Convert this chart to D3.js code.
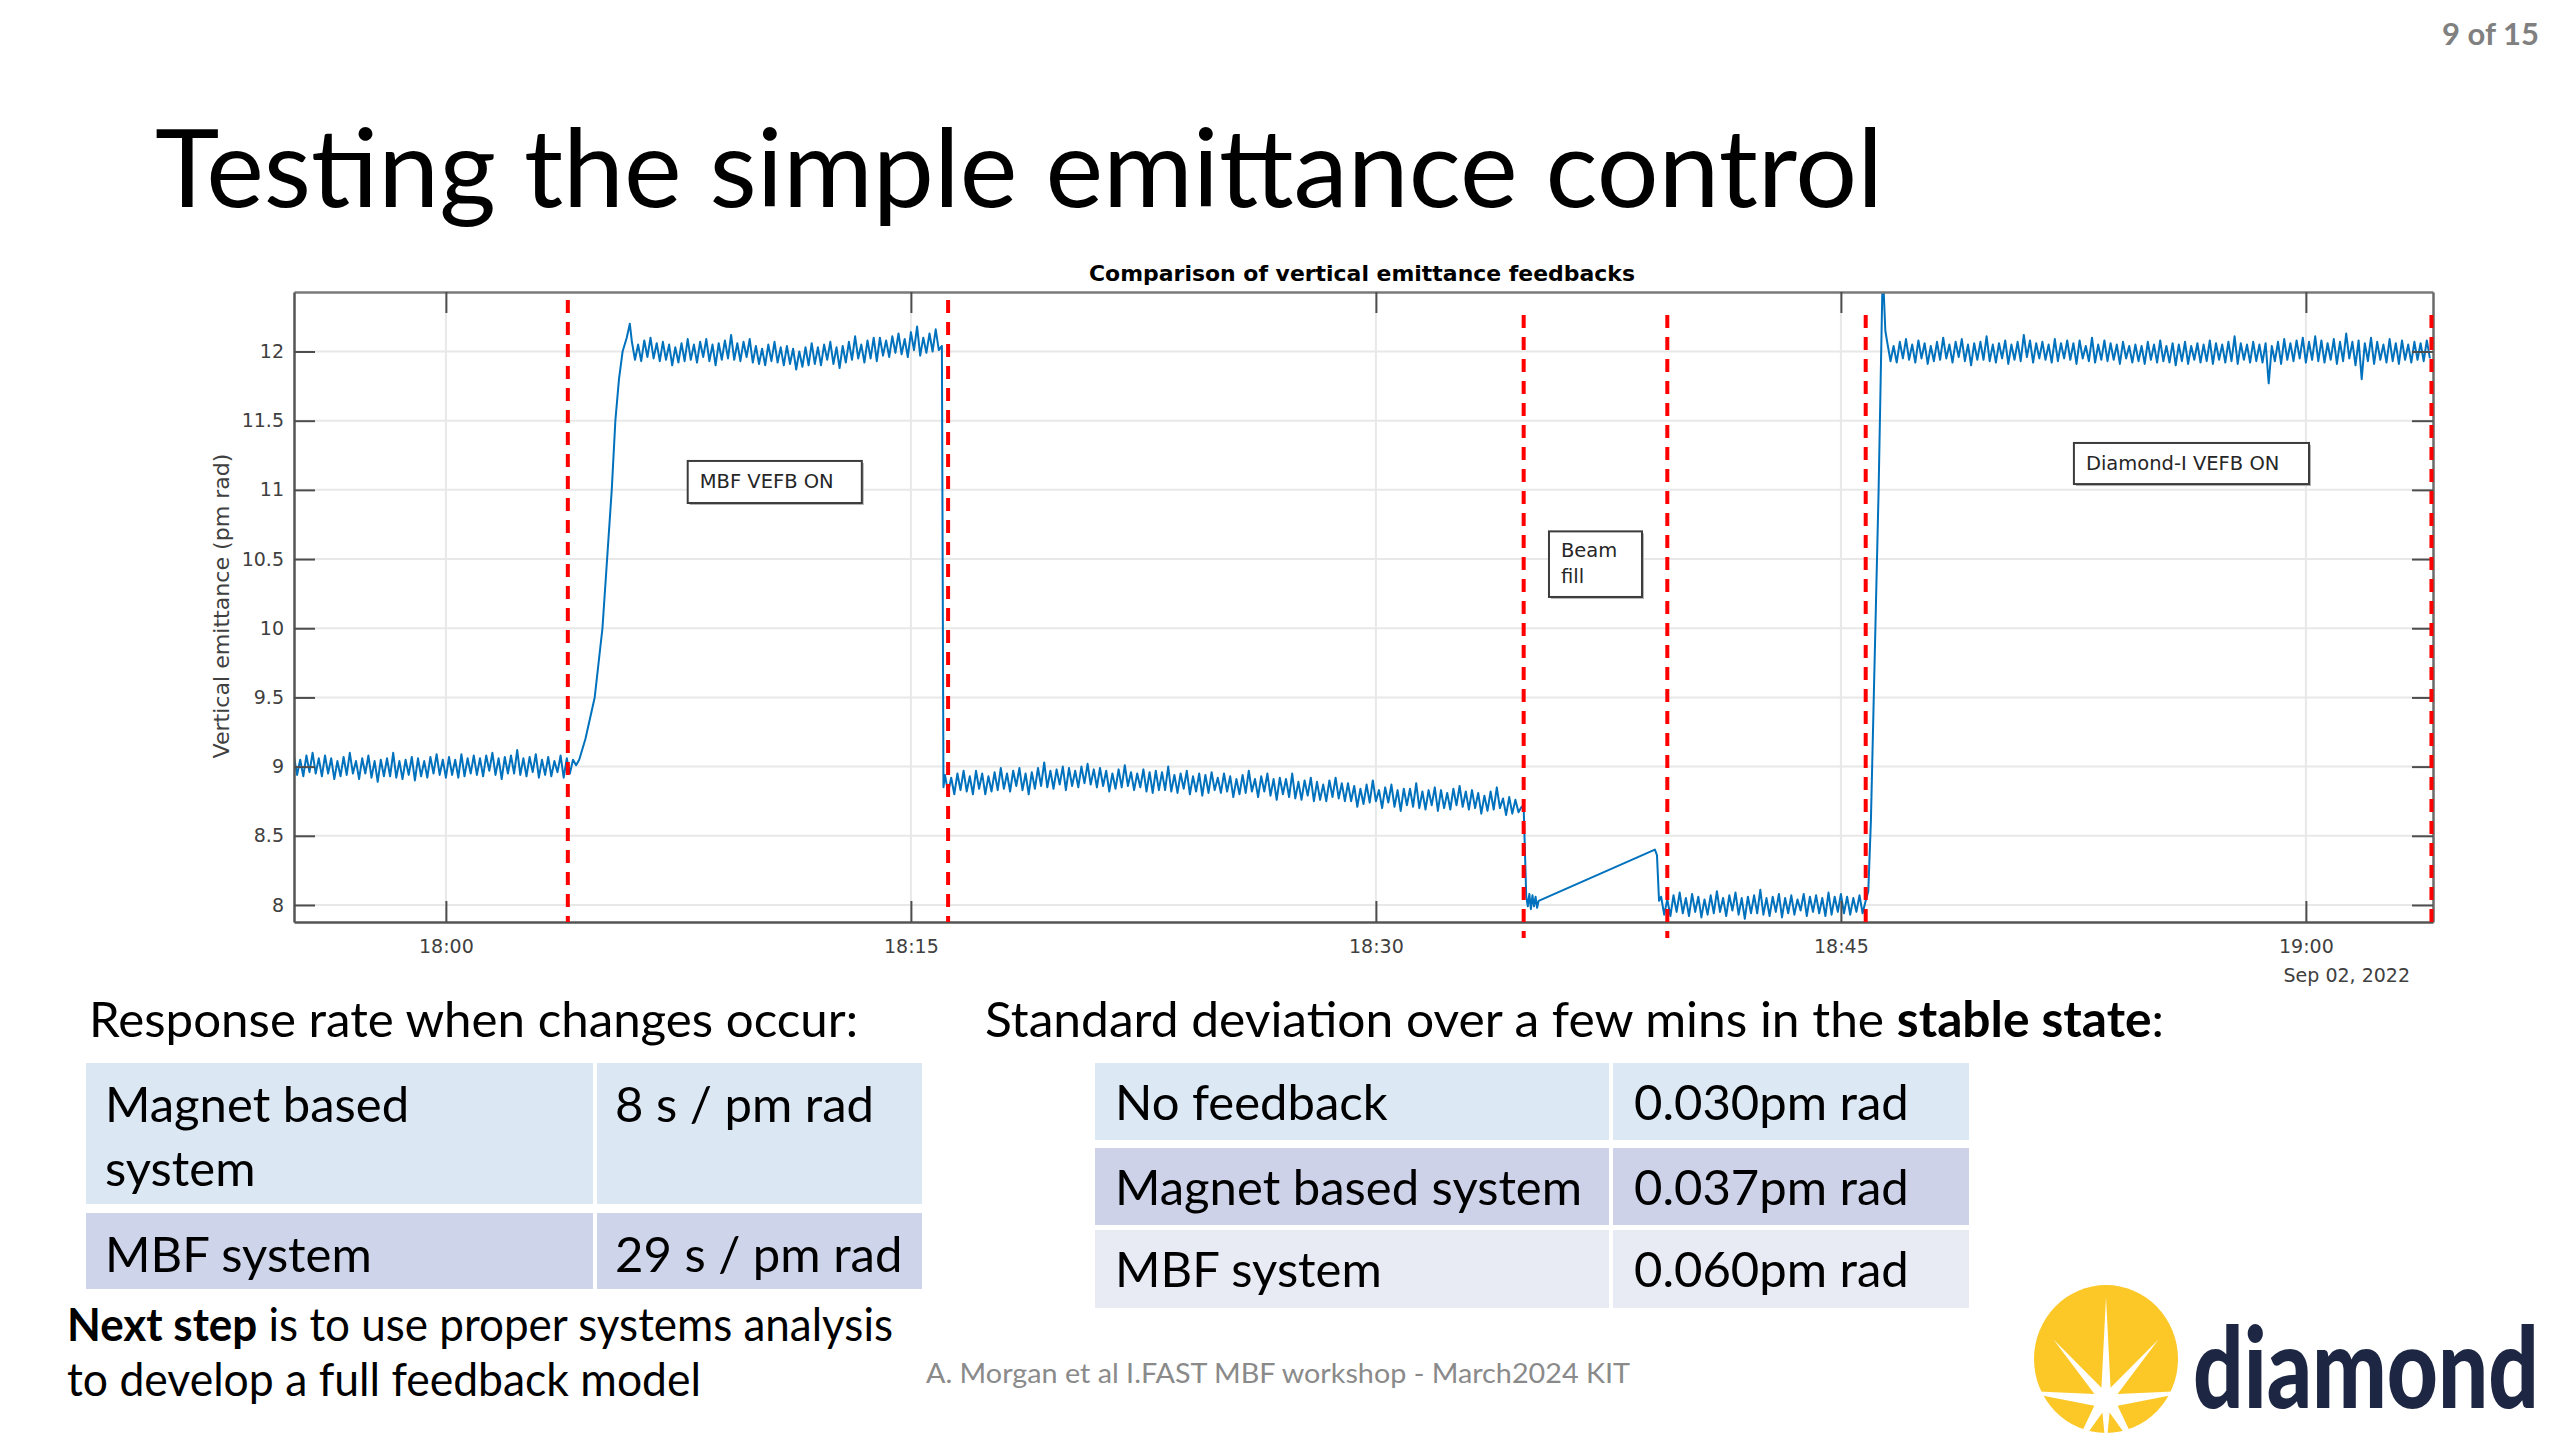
<!DOCTYPE html>
<html>
<head>
<meta charset="utf-8">
<script src="https://cdn.jsdelivr.net/npm/d3@7"></script>
<style>
  html, body { margin: 0; padding: 0; background: #fff; }
  svg { display: block; }
  text { white-space: pre; }
</style>
</head>
<body>
<svg id="slide" width="2560" height="1440"></svg>
<script>
// ---- data ----
const day = "2022-09-02 ";
const xLimits = ["17:55:06", "19:04:06"];
const yLimits = [7.877, 12.43];
const yTicks = [8, 8.5, 9, 9.5, 10, 10.5, 11, 11.5, 12];
const xTicks = ["18:00:00", "18:15:00", "18:30:00", "18:45:00", "19:00:00"];
const dateLabel = "Sep 02, 2022";
const sampleStep = 6; // seconds between samples in the noisy stretches

// no feedback
const segAStart = "17:55:06";
const segA = [
  9.07, 8.94, 9.05, 8.93, 9.08, 8.96, 9.10, 8.95, 9.06, 8.93,
  9.08, 8.95, 9.06, 8.91, 9.04, 8.93, 9.07, 8.94, 9.10, 8.95,
  9.04, 8.91, 9.06, 8.95, 9.08, 8.92, 9.04, 8.89, 9.05, 8.93,
  9.06, 8.93, 9.10, 8.92, 9.04, 8.91, 9.05, 8.94, 9.07, 8.90,
  9.06, 8.93, 9.04, 8.92, 9.07, 8.95, 9.09, 8.94, 9.05, 8.92,
  9.07, 8.94, 9.05, 8.92, 9.09, 8.93, 9.06, 8.95, 9.08, 8.94,
  9.06, 8.93, 9.08, 8.97, 9.10, 8.94, 9.06, 8.91, 9.07, 8.95,
  9.08, 8.95, 9.12, 8.94, 9.06, 8.93, 9.07, 8.96, 9.09, 8.92,
  9.05, 8.94, 9.07, 8.93, 9.04, 8.96, 9.08, 8.92, 9.06, 8.95,
  9.05, 9.01
];
const rise1 = [
  ["18:04:18", 9.05], ["18:04:30", 9.2], ["18:04:48", 9.5], ["18:05:03", 10.0],
  ["18:05:12", 10.5], ["18:05:21", 11.0], ["18:05:28", 11.5], ["18:05:35", 11.8],
  ["18:05:42", 12.0], ["18:05:50", 12.1], ["18:05:56", 12.2]
];
// MBF VEFB on
const segBStart = "18:06:00";
const segB = [
  12.07, 11.94, 12.05, 11.93, 12.08, 11.96, 12.10, 11.95, 12.06, 11.93,
  12.07, 11.94, 12.05, 11.90, 12.03, 11.92, 12.06, 11.93, 12.09, 11.94,
  12.05, 11.92, 12.07, 11.96, 12.09, 11.93, 12.05, 11.90, 12.06, 11.94,
  12.08, 11.95, 12.12, 11.94, 12.06, 11.93, 12.07, 11.96, 12.09, 11.92,
  12.04, 11.91, 12.02, 11.90, 12.05, 11.93, 12.07, 11.92, 12.03, 11.90,
  12.04, 11.91, 12.02, 11.87, 12.00, 11.89, 12.03, 11.90, 12.06, 11.91,
  12.03, 11.90, 12.05, 11.94, 12.07, 11.91, 12.03, 11.88, 12.04, 11.92,
  12.07, 11.94, 12.11, 11.95, 12.05, 11.92, 12.08, 11.95, 12.10, 11.93,
  12.10, 11.97, 12.08, 11.96, 12.11, 11.99, 12.13, 11.98, 12.09, 11.96,
  12.14, 12.01, 12.18, 11.97, 12.10, 11.99, 12.13, 12.00, 12.16, 12.01,
  12.04
];
const drop1 = [["18:16:03", 8.85]];
// magnet based feedback
const segCStart = "18:16:06";
const segC = [
  8.94, 8.81, 8.92, 8.80, 8.95, 8.83, 8.97, 8.82, 8.93, 8.80,
  8.97, 8.84, 8.95, 8.80, 8.93, 8.82, 8.96, 8.83, 8.99, 8.84,
  8.95, 8.82, 8.97, 8.86, 8.99, 8.83, 8.95, 8.80, 8.96, 8.84,
  8.99, 8.86, 9.03, 8.85, 8.97, 8.84, 8.98, 8.87, 9.00, 8.83,
  8.99, 8.86, 8.97, 8.85, 9.00, 8.88, 9.02, 8.87, 8.98, 8.85,
  8.99, 8.86, 8.97, 8.82, 8.95, 8.84, 8.98, 8.85, 9.01, 8.86,
  8.96, 8.83, 8.95, 8.85, 8.98, 8.82, 8.96, 8.81, 8.97, 8.83,
  8.96, 8.83, 9.00, 8.82, 8.94, 8.81, 8.95, 8.84, 8.97, 8.80,
  8.93, 8.82, 8.95, 8.79, 8.94, 8.81, 8.96, 8.83, 8.92, 8.81,
  8.95, 8.82, 8.93, 8.78, 8.91, 8.80, 8.94, 8.81, 8.97, 8.82,
  8.91, 8.78, 8.93, 8.82, 8.95, 8.79, 8.91, 8.76, 8.92, 8.80,
  8.91, 8.78, 8.95, 8.77, 8.89, 8.76, 8.90, 8.79, 8.92, 8.75,
  8.89, 8.76, 8.87, 8.75, 8.90, 8.78, 8.92, 8.77, 8.88, 8.75,
  8.88, 8.75, 8.86, 8.71, 8.84, 8.73, 8.87, 8.74, 8.90, 8.75,
  8.83, 8.70, 8.85, 8.74, 8.87, 8.71, 8.83, 8.68, 8.84, 8.72,
  8.84, 8.71, 8.88, 8.70, 8.82, 8.69, 8.83, 8.72, 8.85, 8.68,
  8.83, 8.70, 8.81, 8.69, 8.84, 8.72, 8.86, 8.71, 8.82, 8.69,
  8.83, 8.70, 8.81, 8.66, 8.79, 8.68, 8.82, 8.69, 8.85, 8.70,
  8.77, 8.65, 8.78, 8.66, 8.76, 8.67, 8.71
];
// beam fill
const fillGap = [
  ["18:34:46", 8.70], ["18:34:51", 8.06], ["18:34:54", 7.99], ["18:34:57", 8.08],
  ["18:35:00", 7.97], ["18:35:03", 8.07], ["18:35:06", 7.99], ["18:35:09", 8.06],
  ["18:35:12", 7.98], ["18:35:15", 8.03], ["18:39:00", 8.40], ["18:39:04", 8.36],
  ["18:39:08", 8.03]
];
const segDStart = "18:39:12";
const segD = [
  8.06, 7.93, 8.04, 7.92, 8.07, 7.95, 8.09, 7.94, 8.05, 7.92,
  8.08, 7.95, 8.06, 7.91, 8.04, 7.93, 8.07, 7.94, 8.10, 7.95,
  8.05, 7.92, 8.07, 7.96, 8.09, 7.93, 8.05, 7.90, 8.06, 7.94,
  8.07, 7.94, 8.11, 7.93, 8.05, 7.92, 8.06, 7.95, 8.08, 7.91,
  8.05, 7.94, 8.07, 7.93, 8.04, 7.96, 8.08, 7.92, 8.06, 7.95,
  8.07, 7.94, 8.05, 7.92, 8.09, 7.93, 8.06, 7.95, 8.08, 7.94,
  8.06, 7.93, 8.05, 7.95, 8.07, 7.94, 8.03
];
const rise2 = [
  ["18:45:53", 8.1], ["18:45:58", 8.6], ["18:46:03", 9.4], ["18:46:08", 10.2],
  ["18:46:13", 11.0], ["18:46:17", 11.8], ["18:46:21", 12.6], ["18:46:26", 12.15]
];
// Diamond-I VEFB on
const segEStart = "18:46:30";
const segE = [
  12.06, 11.93, 12.04, 11.92, 12.07, 11.95, 12.09, 11.94, 12.05, 11.92,
  12.08, 11.95, 12.06, 11.91, 12.04, 11.93, 12.07, 11.94, 12.10, 11.95,
  12.05, 11.92, 12.07, 11.96, 12.09, 11.93, 12.05, 11.90, 12.06, 11.94,
  12.07, 11.94, 12.11, 11.93, 12.05, 11.92, 12.06, 11.95, 12.08, 11.91,
  12.05, 11.94, 12.07, 11.93, 12.12, 11.96, 12.08, 11.92, 12.06, 11.95,
  12.07, 11.94, 12.05, 11.92, 12.09, 11.93, 12.06, 11.95, 12.08, 11.94,
  12.06, 11.91, 12.08, 11.95, 12.04, 11.93, 12.10, 11.92, 12.05, 11.94,
  12.08, 11.93, 12.06, 11.94, 12.05, 11.91, 12.07, 11.95, 12.04, 11.92,
  12.05, 11.93, 12.04, 11.91, 12.07, 11.94, 12.05, 11.92, 12.08, 11.93,
  12.04, 11.92, 12.06, 11.90, 12.05, 11.93, 12.07, 11.91, 12.04, 11.94,
  12.06, 11.92, 12.05, 11.93, 12.08, 11.91, 12.06, 11.94, 12.05, 11.92,
  12.07, 11.93, 12.11, 11.91, 12.06, 11.94, 12.05, 11.92, 12.07, 11.93,
  12.05, 11.92, 12.06, 11.77, 12.04, 11.93, 12.07, 11.91, 12.09, 11.94,
  12.06, 11.93, 12.08, 11.95, 12.10, 11.92, 12.07, 11.94, 12.11, 11.93,
  12.08, 11.92, 12.06, 11.94, 12.09, 11.91, 12.07, 11.93, 12.13, 11.95,
  12.07, 11.90, 12.08, 11.80, 12.06, 11.93, 12.10, 11.91, 12.07, 11.94,
  12.05, 11.92, 12.09, 11.93, 12.06, 11.91, 12.08, 11.94, 12.05, 11.92,
  12.07, 11.94, 12.06, 11.93, 12.08, 11.95
];

const feedbackEvents = ["18:03:56", "18:16:12", "18:34:46", "18:39:24", "18:45:48", "19:04:03"];
const noteLabels = [["MBF VEFB ON"], ["Beam", "fill"], ["Diamond-I VEFB ON"]];

const responseSystems = [["Magnet based", "system"], ["MBF system"]];
const responseRates = ["8 s / pm rad", "29 s / pm rad"];
const stdSystems = ["No feedback", "Magnet based system", "MBF system"];
const stdValues = ["0.030pm rad", "0.037pm rad", "0.060pm rad"];

// ---- build ----
const parseT = d3.timeParse("%Y-%m-%d %H:%M:%S");
const toDate = s => parseT(day + s);
function expand(start, vals) {
  const t0 = +toDate(start);
  return vals.map((v, i) => ({ t: new Date(t0 + i * sampleStep * 1000), v }));
}
const pts = arr => arr.map(([s, v]) => ({ t: toDate(s), v }));

const series = [].concat(
  expand(segAStart, segA), pts(rise1),
  expand(segBStart, segB), pts(drop1),
  expand(segCStart, segC), pts(fillGap),
  expand(segDStart, segD), pts(rise2),
  expand(segEStart, segE)
);

const slideFont = "Lato, 'Open Sans', sans-serif";
const plotFont = "'DejaVu Sans', sans-serif";

const svg = d3.select("#slide");
const plot = { left: 294, right: 2433, top: 292, bottom: 922 };

const x = d3.scaleTime().domain(xLimits.map(toDate)).range([plot.left, plot.right]);
const y = d3.scaleLinear().domain(yLimits).range([plot.bottom, plot.top]);
const xTickDates = xTicks.map(toDate);

// page number + title
svg.append("text")
  .attr("x", 2539).attr("y", 45)
  .attr("text-anchor", "end")
  .attr("font-family", slideFont).attr("font-weight", 700).attr("font-size", 31)
  .attr("fill", "#808080")
  .text("9 of 15");

svg.append("text")
  .attr("x", 155).attr("y", 207)
  .attr("font-family", slideFont).attr("font-size", 108)
  .attr("textLength", 1728).attr("lengthAdjust", "spacingAndGlyphs")
  .attr("fill", "#000")
  .text("Testing the simple emittance control");

// ---- chart ----
const g = svg.append("g");

g.append("g").selectAll("line").data(yTicks).join("line")
  .attr("x1", plot.left).attr("x2", plot.right)
  .attr("y1", d => y(d)).attr("y2", d => y(d))
  .attr("stroke", "#e8e8e8").attr("stroke-width", 2);

g.append("g").selectAll("line").data(xTickDates).join("line")
  .attr("x1", d => x(d)).attr("x2", d => x(d))
  .attr("y1", plot.top).attr("y2", plot.bottom)
  .attr("stroke", "#e8e8e8").attr("stroke-width", 2);

svg.append("clipPath").attr("id", "plotClip")
  .append("rect")
  .attr("x", plot.left).attr("y", plot.top)
  .attr("width", plot.right - plot.left).attr("height", plot.bottom - plot.top);

const line = d3.line().x(d => x(d.t)).y(d => y(d.v));

g.append("path")
  .datum(series)
  .attr("clip-path", "url(#plotClip)")
  .attr("fill", "none")
  .attr("stroke", "#0072bd")
  .attr("stroke-width", 2)
  .attr("stroke-linejoin", "round")
  .attr("d", line);

// axes
function styleAxis(sel, color) {
  sel.select(".domain").attr("stroke", color).attr("stroke-width", 2.5);
  sel.selectAll(".tick line").attr("stroke", "#4d4d4d").attr("stroke-width", 2);
  sel.selectAll(".tick text")
    .attr("font-family", plotFont).attr("font-size", 19).attr("fill", "#404040");
}

g.append("g")
  .attr("transform", `translate(0,${plot.top})`)
  .call(d3.axisTop(x).tickValues(xTickDates).tickSize(-21).tickSizeOuter(0).tickFormat(""))
  .call(s => styleAxis(s, "#7a7a7a"));

g.append("g")
  .attr("transform", `translate(${plot.right},0)`)
  .call(d3.axisRight(y).tickValues(yTicks).tickSize(-21).tickSizeOuter(0).tickFormat(""))
  .call(s => styleAxis(s, "#6a6a6a"));

g.append("g")
  .attr("transform", `translate(0,${plot.bottom})`)
  .call(d3.axisBottom(x).tickValues(xTickDates).tickSize(-21).tickSizeOuter(0)
    .tickPadding(18).tickFormat(d3.timeFormat("%H:%M")))
  .call(s => styleAxis(s, "#555"));

g.append("g")
  .attr("transform", `translate(${plot.left},0)`)
  .call(d3.axisLeft(y).tickValues(yTicks).tickSize(-21).tickSizeOuter(0)
    .tickPadding(10).tickFormat(d3.format("~g")))
  .call(s => styleAxis(s, "#555"));

g.append("text")
  .attr("x", 2410).attr("y", 982)
  .attr("text-anchor", "end")
  .attr("font-family", plotFont).attr("font-size", 19).attr("fill", "#404040")
  .text(dateLabel);

g.append("text")
  .attr("transform", "translate(229,606) rotate(-90)")
  .attr("text-anchor", "middle")
  .attr("font-family", plotFont).attr("font-size", 21).attr("fill", "#404040")
  .attr("textLength", 305).attr("lengthAdjust", "spacingAndGlyphs")
  .text("Vertical emittance (pm rad)");

g.append("text")
  .attr("x", 1362).attr("y", 281)
  .attr("text-anchor", "middle")
  .attr("font-family", plotFont).attr("font-weight", "bold").attr("font-size", 21)
  .attr("textLength", 546).attr("lengthAdjust", "spacingAndGlyphs")
  .attr("fill", "#000")
  .text("Comparison of vertical emittance feedbacks");

// event markers
g.append("g").selectAll("line").data(feedbackEvents).join("line")
  .attr("x1", d => x(toDate(d))).attr("x2", d => x(toDate(d)))
  .attr("y1", (d, i) => (i >= 2 ? 315 : 300)).attr("y2", (d, i) => (i === 2 || i === 3 ? 938 : plot.bottom))
  .attr("stroke", "#ff0000")
  .attr("stroke-width", 4)
  .attr("stroke-dasharray", "13 9");

// annotation boxes (placed in axes coordinates)
const noteBoxes = [
  { x0: x(toDate("18:07:48")), x1: x(toDate("18:13:25")), y0: y(11.209), y1: y(10.905) },
  { x0: x(toDate("18:35:35")), x1: x(toDate("18:38:35")), y0: y(10.70), y1: y(10.226) },
  { x0: x(toDate("18:52:31")), x1: x(toDate("19:00:06")), y0: y(11.339), y1: y(11.042) }
];
const notes = g.append("g").selectAll("g").data(noteLabels).join("g");
notes.append("rect")
  .attr("x", (d, i) => noteBoxes[i].x0 + 2).attr("y", (d, i) => noteBoxes[i].y0 + 2)
  .attr("width", (d, i) => noteBoxes[i].x1 - noteBoxes[i].x0)
  .attr("height", (d, i) => noteBoxes[i].y1 - noteBoxes[i].y0)
  .attr("fill", "#b5b5b5");
notes.append("rect")
  .attr("x", (d, i) => noteBoxes[i].x0).attr("y", (d, i) => noteBoxes[i].y0)
  .attr("width", (d, i) => noteBoxes[i].x1 - noteBoxes[i].x0)
  .attr("height", (d, i) => noteBoxes[i].y1 - noteBoxes[i].y0)
  .attr("fill", "#fff").attr("stroke", "#3c3c3c").attr("stroke-width", 2);
notes.each(function (d, i) {
  const b = noteBoxes[i];
  d3.select(this).selectAll("text").data(d).join("text")
    .attr("x", b.x0 + 12)
    .attr("y", (t, j) => b.y0 + (d.length > 1 ? 26 + j * 26 : 27))
    .attr("font-family", plotFont).attr("font-size", 19.5).attr("fill", "#262626")
    .text(t => t);
});

// ---- lower text ----
const body = svg.append("g").attr("font-family", slideFont).attr("fill", "#000");

body.append("text")
  .attr("x", 89).attr("y", 1037).attr("font-size", 49)
  .attr("textLength", 769).attr("lengthAdjust", "spacingAndGlyphs")
  .text("Response rate when changes occur:");

const h2 = body.append("text")
  .attr("x", 985).attr("y", 1037).attr("font-size", 49)
  .attr("textLength", 1179).attr("lengthAdjust", "spacingAndGlyphs");
h2.append("tspan").text("Standard deviation over a few mins in the ");
h2.append("tspan").attr("font-weight", 700).text("stable state");
h2.append("tspan").text(":");

// table 1
const t1 = { x0: 86, split: 595, x1: 922, rows: [[1063, 1204], [1213, 1289]], fills: ["#dce7f4", "#ced4e9"] };
const t1g = body.append("g");
t1g.selectAll("rect.c1").data(responseSystems).join("rect")
  .attr("x", t1.x0).attr("y", (d, i) => t1.rows[i][0])
  .attr("width", t1.split - t1.x0 - 2).attr("height", (d, i) => t1.rows[i][1] - t1.rows[i][0])
  .attr("fill", (d, i) => t1.fills[i]);
t1g.selectAll("rect.c2").data(responseRates).join("rect")
  .attr("x", t1.split + 2).attr("y", (d, i) => t1.rows[i][0])
  .attr("width", t1.x1 - t1.split - 2).attr("height", (d, i) => t1.rows[i][1] - t1.rows[i][0])
  .attr("fill", (d, i) => t1.fills[i]);
responseSystems.forEach((lines, i) => {
  lines.forEach((s, j) => {
    t1g.append("text").attr("x", 105).attr("y", t1.rows[i][0] + 59 + j * 64)
      .attr("font-size", 49).text(s);
  });
});
t1g.selectAll("text.rate").data(responseRates).join("text")
  .attr("x", 615).attr("y", (d, i) => t1.rows[i][0] + 59)
  .attr("font-size", 49).text(d => d);

// table 2
const t2 = { x0: 1095, split: 1611, x1: 1969, rows: [[1063, 1140], [1148, 1225], [1230, 1308]], fills: ["#dde8f5", "#cdd2e8", "#e8eaf4"] };
const t2g = body.append("g");
t2g.selectAll("rect.c1").data(stdSystems).join("rect")
  .attr("x", t2.x0).attr("y", (d, i) => t2.rows[i][0])
  .attr("width", t2.split - t2.x0 - 2).attr("height", (d, i) => t2.rows[i][1] - t2.rows[i][0])
  .attr("fill", (d, i) => t2.fills[i]);
t2g.selectAll("rect.c2").data(stdValues).join("rect")
  .attr("x", t2.split + 2).attr("y", (d, i) => t2.rows[i][0])
  .attr("width", t2.x1 - t2.split - 2).attr("height", (d, i) => t2.rows[i][1] - t2.rows[i][0])
  .attr("fill", (d, i) => t2.fills[i]);
t2g.selectAll("text.sys").data(stdSystems).join("text")
  .attr("x", 1115).attr("y", (d, i) => t2.rows[i][0] + 57)
  .attr("font-size", 49).text(d => d);
t2g.selectAll("text.val").data(stdValues).join("text")
  .attr("x", 1634).attr("y", (d, i) => t2.rows[i][0] + 57)
  .attr("font-size", 49).text(d => d);

const ns = body.append("text")
  .attr("x", 67).attr("y", 1341).attr("font-size", 46)
  .attr("textLength", 826).attr("lengthAdjust", "spacingAndGlyphs");
ns.append("tspan").attr("font-weight", 700).text("Next step");
ns.append("tspan").text(" is to use proper systems analysis");

body.append("text")
  .attr("x", 67).attr("y", 1396).attr("font-size", 46)
  .attr("textLength", 634).attr("lengthAdjust", "spacingAndGlyphs")
  .text("to develop a full feedback model");

body.append("text")
  .attr("x", 926).attr("y", 1383).attr("font-size", 27).attr("fill", "#8a8a8a")
  .attr("textLength", 704).attr("lengthAdjust", "spacingAndGlyphs")
  .text("A. Morgan et al I.FAST MBF workshop - March2024 KIT");

// ---- logo ----
const logo = svg.append("g");
logo.append("ellipse")
  .attr("cx", 2106).attr("cy", 1359).attr("rx", 72).attr("ry", 74)
  .attr("fill", "#fbc828");
const rays = [[0, 103], [41, 80], [84, 90], [148, 70], [180, 50], [-148, 70], [-84, 90], [-41, 80]];
const cx = 2106, cy = 1400;
const starPts = [];
const sorted = rays.map(([a, l]) => [(a + 360) % 360, l]).sort((a, b) => a[0] - b[0]);
sorted.forEach(([a, l], i) => {
  const next = sorted[(i + 1) % sorted.length][0] + (i === sorted.length - 1 ? 360 : 0);
  const rad = a * Math.PI / 180;
  starPts.push([cx + l * Math.sin(rad), cy - l * Math.cos(rad)]);
  const mid = (a + next) / 2 * Math.PI / 180;
  starPts.push([cx + 13 * Math.sin(mid), cy - 13 * Math.cos(mid)]);
});
logo.append("polygon")
  .attr("points", starPts.map(p => p.join(",")).join(" "))
  .attr("fill", "#fff");
// squeeze the word with a transform so its box stays inside the page
const word = logo.append("text")
  .attr("font-family", slideFont).attr("font-weight", 900).attr("font-size", 112)
  .attr("fill", "#1d2642")
  .text("diamond");
const natural = word.node().getComputedTextLength();
word.attr("transform", `translate(2193,1408) scale(${346 / natural},1)`);
</script>
</body>
</html>
